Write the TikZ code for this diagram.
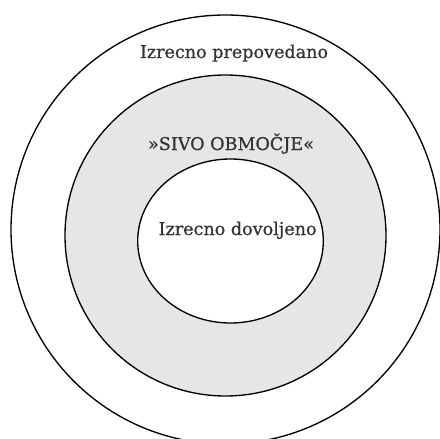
\documentclass[tikz,border=0pt]{standalone}
\usepackage{fontspec}
\setmainfont{DejaVu Serif}
\newfontfamily\capfont[FakeBold=0.7]{DejaVu Serif}
\usetikzlibrary{positioning, shapes.geometric}
\definecolor{zonegray}{HTML}{E6E6E6}
\definecolor{inkgray}{HTML}{333333}
\tikzstyle{zone} = [draw, ellipse, inner sep=0pt, line width=0.95pt]
\tikzstyle{outer} = [zone, fill=white, minimum width=10.725cm, minimum height=10.725cm]
\tikzstyle{grey} = [zone, fill=zonegray, minimum width=8.025cm, minimum height=8.025cm]
\tikzstyle{inner} = [zone, fill=white, minimum width=4.64cm, minimum height=4.1cm]
\tikzstyle{caption} = [anchor=base, inner sep=0pt, text=inkgray, font=\capfont\fontsize{12.5}{14}\selectfont]

\begin{document}
\begin{tikzpicture}
    \useasboundingbox (0, 0) rectangle (11, -10.975);
    \clip (0, 0) rectangle (11, -10.975);

    % Zones.
    \node (forbidden) [outer] at (5.6375, -5.7375) {};
    \node (grayzone) [grey] at (5.6375, -5.8875) {};
    \node (allowed) [inner] at (5.7625, -6.025) {};

    % Captions.
    \node (forbiddenlabel) [caption] at (5.85, -1.45) {Izrecno prepovedano};
    \node (graylabel) [caption] at (5.775, -3.75) {»SIVO OBMOČJE«};
    \node (allowedlabel) [caption] at (5.94, -5.875) {Izrecno dovoljeno};
\end{tikzpicture}
\end{document}
